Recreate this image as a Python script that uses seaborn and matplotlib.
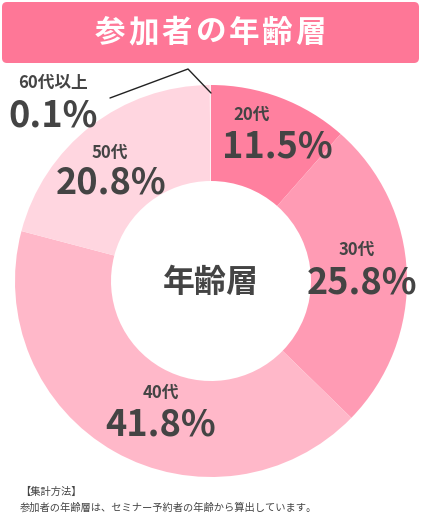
import matplotlib
matplotlib.use('Agg')
import matplotlib.pyplot as plt
import seaborn as sns
from matplotlib.patches import FancyBboxPatch

# --- data ---
ages = ['20代', '30代', '40代', '50代', '60代以上']
shares = [11.5, 25.8, 41.8, 20.8, 0.1]
share_labels = ['11.5%', '25.8%', '41.8%', '20.8%', '0.1%']
colors = ['#ff809f', '#ff9bb4', '#ffb8c9', '#ffd6e0', '#ffeef2']

title = '参加者の年齢層'
center_label = '年齢層'
note_head = '【集計方法】'
note_body = '参加者の年齢層は、セミナー予約者の年齢から算出しています。'

sns.set_theme(style='white')
plt.rcParams['font.family'] = ['Noto Sans CJK JP', 'DejaVu Sans']

W, H = 421, 526
fig = plt.figure(figsize=(W / 100, H / 100), dpi=100)
ax = fig.add_axes([0, 0, 1, 1])

def py(y):
    # pixel row from the top -> data y
    return H - y

# title banner (wide letter spacing, so one glyph at a time)
banner = FancyBboxPatch((2, py(63)), W - 4, 61, boxstyle='round,pad=0,rounding_size=5',
                        facecolor='#fe7797', edgecolor='none')
ax.add_patch(banner)
pitch = 33.5
x0 = W / 2 - pitch * (len(title) - 1) / 2
for i, ch in enumerate(title):
    ax.text(x0 + i * pitch, py(33), ch, ha='center', va='center', color='white',
            fontsize=22, fontweight='bold')

# donut
cx, cy, r_out, r_in = 211, py(281), 196, 100
ax.pie(shares, colors=colors, startangle=90, counterclock=False,
       center=(cx, cy), radius=r_out,
       wedgeprops=dict(width=r_out - r_in, edgecolor='none'))

ax.text(cx, py(283), center_label, ha='center', va='center', color='#444444',
        fontsize=23, fontweight='bold')

# slice labels (age, value)
label_pos = [(252, 115, 277, 147), (357, 250, 362, 283), (161, 393, 161, 425),
             (110, 153, 111, 183), (53, 83, 53, 116)]
for age, val, (ax1, ay1, ax2, ay2) in zip(ages, share_labels, label_pos):
    ax.text(ax1, py(ay1), age, ha='center', va='center', color='#444444',
            fontsize=12, fontweight='bold')
    ax.text(ax2, py(ay2), val, ha='center', va='center', color='#444444',
            fontsize=26, fontweight='bold')

# leader line for 60代以上
ax.plot([110, 188, 211], [py(98), py(69), py(93)], color='#222222', lw=1)

# footnote
ax.text(20, py(492), note_head, ha='left', va='center', color='#444444', fontsize=7.4)
ax.text(20, py(508), note_body, ha='left', va='center', color='#444444', fontsize=7.4)

ax.set_xlim(0, W)
ax.set_ylim(0, H)
ax.set_aspect('equal')
ax.axis('off')

fig.savefig('out.png', dpi=100)
